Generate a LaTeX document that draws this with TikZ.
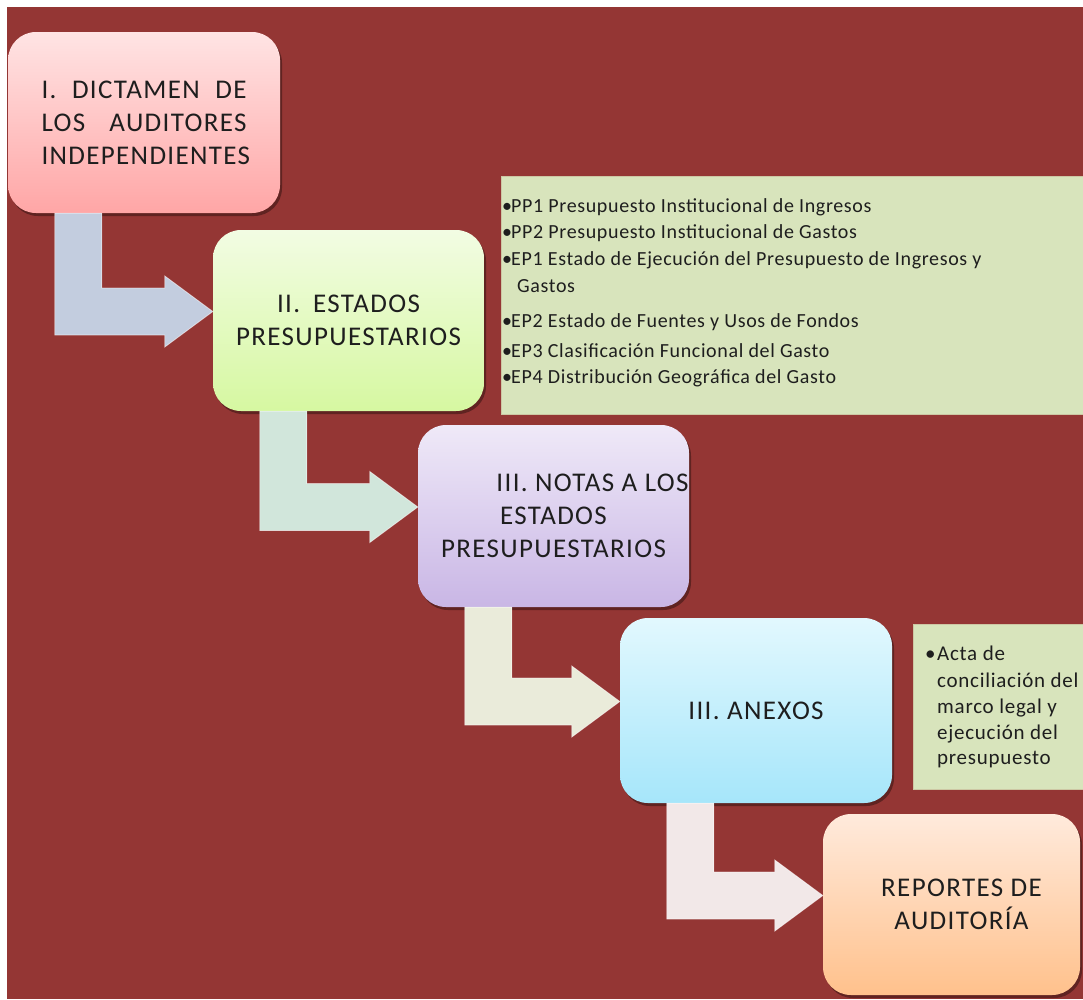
\documentclass[tikz,border=0pt]{standalone}
\usepackage{fontspec}
\setmainfont{Carlito}
\newfontfamily\widefont[LetterSpace=5]{Carlito}
\newfontfamily\widefontb[LetterSpace=3.2]{Carlito}
\newfontfamily\widefontc[LetterSpace=3.5]{Carlito}
\usetikzlibrary{calc,shadows}
\definecolor{bgred}{HTML}{943634}
\definecolor{notefill}{HTML}{D8E4BC}
\definecolor{noteedge}{HTML}{CDC7A4}
\definecolor{txt}{HTML}{1E1E1E}
\definecolor{arA}{HTML}{C3CDDF}
\definecolor{arB}{HTML}{D1E6DB}
\definecolor{arC}{HTML}{EAEBDA}
\definecolor{arD}{HTML}{F2E8E8}
\newcommand{\bigtxt}{\widefont\fontsize{27}{33}\selectfont}
\newcommand{\notetxt}{\widefontb\fontsize{20}{27}\selectfont}
\newcommand{\notetxtb}{\widefontc\fontsize{21}{26}\selectfont}
\newcommand{\bul}{\makebox[9pt][l]{\textbullet}}
\newcommand{\bulb}{\makebox[12pt][l]{\textbullet}}
\tikzset{
  stagebox/.style={rounded corners=28pt, inner sep=0pt, align=center,
    text=txt, font=\bigtxt,
    drop shadow={shadow xshift=2pt, shadow yshift=-3pt, opacity=0.35, fill=black}},
  notebox/.style={fill=notefill, draw=noteedge, line width=0.6pt, inner sep=0pt, anchor=north west},
  noteline/.style={anchor=base west, inner sep=0pt, text=txt, font=\notetxt},
  notelineb/.style={anchor=base west, inner sep=0pt, text=txt, font=\notetxtb},
  bent/.style={fill=#1, draw=white, draw opacity=0.55, line width=0.8pt, line join=miter}
}
\newcommand{\bentarrow}[3]{%
  \path[bent=#3] let \p1=($(#1.south west)+(47,0)$), \p2=($(#2.west)+(0,-9)$) in
    (\x1,\y1) -- (\x1+47pt,\y1) -- (\x1+47pt,\y2+23.5pt) -- (\x2-48pt,\y2+23.5pt)
    -- (\x2-48pt,\y2+35.5pt) -- (\x2,\y2) -- (\x2-48pt,\y2-35.5pt)
    -- (\x2-48pt,\y2-23.5pt) -- (\x1,\y2-23.5pt) -- cycle;}
\begin{document}
\begin{tikzpicture}[x=1pt,y=-1pt]
\useasboundingbox (0,0) rectangle (1083,999);
\fill[white] (0,0) rectangle (1083,999);
\fill[bgred] (7,7) rectangle (1083,999);

% note boxes
\node[notebox, minimum width=582pt, minimum height=238pt] (n1) at (501,176) {};
\node[notebox, minimum width=170pt, minimum height=165pt] (n2) at (913,624) {};

\node[noteline] (pp1) at (502,212) {\bul PP1 Presupuesto Institucional de Ingresos};
\node[noteline] (pp2) at (502,238) {\bul PP2 Presupuesto Institucional de Gastos};
\node[noteline] (ep1) at (502,265) {\bul EP1 Estado de Ejecución del Presupuesto de Ingresos y};
\node[noteline] (ep1b) at (502,292) {\hspace*{15pt}Gastos};
\node[noteline] (ep2) at (502,327) {\bul EP2 Estado de Fuentes y Usos de Fondos};
\node[noteline] (ep3) at (502,357) {\bul EP3 Clasificación Funcional del Gasto};
\node[noteline] (ep4) at (502,383) {\bul EP4 Distribución Geográfica del Gasto};

\node[notelineb] (ac1) at (925,660) {\bulb Acta de};
\node[notelineb] (ac2) at (925,687) {\hspace*{12pt}conciliación del};
\node[notelineb] (ac3) at (925,713) {\hspace*{12pt}marco legal y};
\node[notelineb] (ac4) at (925,739) {\hspace*{12pt}ejecución del};
\node[notelineb] (ac5) at (925,764) {\hspace*{12pt}presupuesto};

% stage boxes
\node[stagebox, top color={rgb,255:red,255;green,228;blue,228}, bottom color={rgb,255:red,255;green,166;blue,166},
  minimum width=272pt, minimum height=181pt] (b1) at (144,122.5)
  {\makebox[205pt][s]{I. DICTAMEN DE}\\\makebox[205pt][s]{LOS AUDITORES}\\\makebox[205pt][s]{INDEPENDIENTES}};
\node[stagebox, top color={rgb,255:red,242;green,252;blue,227}, bottom color={rgb,255:red,214;green,248;blue,161},
  minimum width=271pt, minimum height=181pt] (b2) at (348.5,320.5)
  {II.\hspace{13pt}ESTADOS\\PRESUPUESTARIOS};
\node[stagebox, top color={rgb,255:red,239;green,233;blue,248}, bottom color={rgb,255:red,201;green,182;blue,229},
  minimum width=271pt, minimum height=182pt] (b3) at (553.5,516)
  {\hspace*{78pt}III. NOTAS A LOS\\ESTADOS\\PRESUPUESTARIOS};
\node[stagebox, top color={rgb,255:red,226;green,248;blue,254}, bottom color={rgb,255:red,166;green,230;blue,250},
  minimum width=272pt, minimum height=185pt] (b4) at (756,710.5)
  {III. ANEXOS};
\node[stagebox, top color={rgb,255:red,255;green,234;blue,220}, bottom color={rgb,255:red,255;green,193;blue,140},
  minimum width=257pt, minimum height=181pt] (b5) at (951.5,904.5)
  {\hspace*{20pt}REPORTES DE\\\hspace*{20pt}AUDITORÍA};

% bent arrows
\bentarrow{b1}{b2}{arA}
\bentarrow{b2}{b3}{arB}
\bentarrow{b3}{b4}{arC}
\bentarrow{b4}{b5}{arD}
\end{tikzpicture}
\end{document}
